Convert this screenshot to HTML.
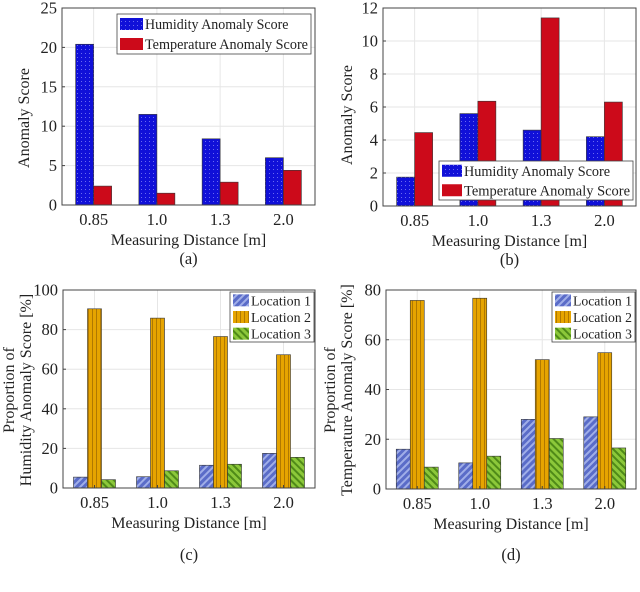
<!DOCTYPE html>
<html><head><meta charset="utf-8"><style>
html,body{margin:0;padding:0;background:#fff;}
svg{display:block;font-family:"Liberation Serif",serif;}
</style></head><body>
<svg id="fig" width="640" height="592" viewBox="0 0 640 592" xmlns="http://www.w3.org/2000/svg">
<defs>
<pattern id="pHum" width="4" height="4" patternUnits="userSpaceOnUse"><rect width="4" height="4" fill="#1010d8"/><rect x="1" y="1" width="1" height="1" fill="#6a6af0"/></pattern>
<pattern id="pL1" width="5" height="5" patternUnits="userSpaceOnUse" patternTransform="rotate(45)"><rect width="5" height="5" fill="#5a6cc8"/><rect width="2" height="5" fill="#a0aee8"/></pattern>
<pattern id="pL2" width="4" height="4" patternUnits="userSpaceOnUse"><rect width="4" height="4" fill="#e6a400"/><rect width="1" height="4" fill="#b07800"/></pattern>
<pattern id="pL3" width="5" height="5" patternUnits="userSpaceOnUse" patternTransform="rotate(-45)"><rect width="5" height="5" fill="#8cc83a"/><rect width="2" height="5" fill="#4f8a18"/></pattern>
</defs>
</svg>
<script>
const categories = ["0.85","1.0","1.3","2.0"];
const humA = [20.4, 11.5, 8.4, 6.0];
const tempA = [2.4, 1.5, 2.9, 4.4];
const humB = [1.75, 5.6, 4.6, 4.2];
const tempB = [4.45, 6.35, 11.4, 6.3];
const loc1C = [5.5, 5.7, 11.5, 17.5];
const loc2C = [90.5, 85.8, 76.5, 67.3];
const loc3C = [4.2, 8.7, 12.0, 15.5];
const loc1D = [16.0, 10.5, 28.0, 29.0];
const loc2D = [75.8, 76.7, 52.0, 54.8];
const loc3D = [8.8, 13.2, 20.3, 16.5];
const ticksA = [0,5,10,15,20,25];
const ticksB = [0,2,4,6,8,10,12];
const ticksC = [0,20,40,60,80,100];
const ticksD = [0,20,40,60,80];

const NS = "http://www.w3.org/2000/svg";
const svg = document.getElementById('fig');
function mk(tag, attrs, parent, text){
  const e = document.createElementNS(NS, tag);
  for (const k in attrs) e.setAttribute(k, attrs[k]);
  if (text !== undefined) e.textContent = text;
  (parent||svg).appendChild(e);
  return e;
}

function panel(o){
  const g = mk('g', {});
  
  
  const ymax = o.ticks[o.ticks.length-1];
  const y = v => o.y1 - (v/ymax)*(o.y1-o.y0);
  const bw = (o.x1-o.x0)/categories.length;
  const x = i => o.x0 + bw*(i+0.5);
  o.ticks.forEach(t=>{
    const gl = mk('line',{x1:o.x0,x2:o.x1,y1:y(t),y2:y(t),stroke:'#e6e6e6','stroke-width':1},g);
    
    
  });
  categories.forEach((c,i)=>{
    const gl = mk('line',{x1:x(i),x2:x(i),y1:o.y0,y2:o.y1,stroke:'#e6e6e6','stroke-width':1},g);
    
    
  });
  const n = o.series.length;
  const w = o.barW;
  o.series.forEach((s,si)=>{
    s.vals.forEach((v,i)=>{
      const bx = x(i) - n*w/2 + si*w;
      const r = mk('rect',{x:bx,y:y(v),width:w,height:y(0)-y(v),fill:s.fill,stroke:'#333','stroke-width':0.6},g);
      
      
    });
  });
  const box = mk('rect',{x:o.x0,y:o.y0,width:o.x1-o.x0,height:o.y1-o.y0,fill:'none',stroke:'#444','stroke-width':1},g);
  
  
  o.ticks.forEach(t=>{
    mk('line',{x1:o.x0,x2:o.x0+3,y1:y(t),y2:y(t),stroke:'#444'},g);
    const tl = mk('text',{x:o.x0-5,y:y(t)+5.5,'text-anchor':'end','font-size':16.5,fill:'#222'},g,String(t));
    
    
  });
  categories.forEach((c,i)=>{
    mk('line',{x1:x(i),x2:x(i),y1:o.y1,y2:o.y1-3,stroke:'#444'},g);
    const tl = mk('text',{x:x(i),y:o.y1+20,'text-anchor':'middle','font-size':16.5,fill:'#222'},g,c);
    
    
  });
  const xt = mk('text',{x:(o.x0+o.x1)/2,y:o.y1+40,'text-anchor':'middle','font-size':16,fill:'#222'},g,'Measuring Distance [m]');
  
  
  o.ylab.forEach((l,li)=>{
    const yx = o.ylabX + li*17;
    const yt = mk('text',{x:yx,y:o.ylabY,'text-anchor':'middle','font-size':16,fill:'#222',transform:`rotate(-90 ${yx} ${o.ylabY})`},g,l);
    
    
  });
  const cap = mk('text',{x:(o.x0+o.x1)/2,y:o.capY,'text-anchor':'middle','font-size':16.5,fill:'#222'},g,o.cap);
  
  
  const L = o.leg;
  const lg = mk('g',{},g);
  
  
  mk('rect',{x:L.x,y:L.y,width:L.w,height:L.h,fill:'#fff',stroke:'#444','stroke-width':0.8},lg);
  const rh = L.h/n;
  o.series.forEach((s,si)=>{
    const cy = L.y + rh*(si+0.5);
    const e = mk('g',{},lg);
    
    
    mk('rect',{x:L.x+3,y:cy-6,width:L.sw,height:12,fill:s.fill},e);
    const tx = L.x+L.sw+5;
    const tl = L.w - (tx-L.x) - 3;
    const maxLen = Math.max(...o.series.map(q=>q.label.length));
    mk('text',{x:tx,y:cy+5,'font-size':L.fs,fill:'#222',textLength:tl*s.label.length/maxLen,lengthAdjust:'spacingAndGlyphs'},e,s.label);
  });
}

panel({name:'panel-a',x0:62,x1:315,y0:8,y1:205,ticks:ticksA,barW:18,
  series:[{key:'humidity',vals:humA,fill:'url(#pHum)',label:'Humidity Anomaly Score'},
          {key:'temperature',vals:tempA,fill:'#cc0a1a',label:'Temperature Anomaly Score'}],
  ylab:['Anomaly Score'],ylabX:29,ylabY:118,cap:'(a)',capY:264,
  leg:{x:117,y:14,w:194,h:40,sw:23,fs:15}});
panel({name:'panel-b',x0:383,x1:636,y0:8,y1:206,ticks:ticksB,barW:18,
  series:[{key:'humidity',vals:humB,fill:'url(#pHum)',label:'Humidity Anomaly Score'},
          {key:'temperature',vals:tempB,fill:'#cc0a1a',label:'Temperature Anomaly Score'}],
  ylab:['Anomaly Score'],ylabX:352,ylabY:115,cap:'(b)',capY:265,
  leg:{x:439,y:161,w:194,h:39,sw:20,fs:15}});
panel({name:'panel-c',x0:63,x1:315,y0:290,y1:488,ticks:ticksC,barW:14,
  series:[{key:'location-1',vals:loc1C,fill:'url(#pL1)',label:'Location 1'},
          {key:'location-2',vals:loc2C,fill:'url(#pL2)',label:'Location 2'},
          {key:'location-3',vals:loc3C,fill:'url(#pL3)',label:'Location 3'}],
  ylab:['Proportion of','Humidity Anomaly Score [%]'],ylabX:14,ylabY:390,cap:'(c)',capY:560,
  leg:{x:230,y:292,w:84,h:50,sw:16,fs:14}});
panel({name:'panel-d',x0:386,x1:636,y0:290,y1:489,ticks:ticksD,barW:14,
  series:[{key:'location-1',vals:loc1D,fill:'url(#pL1)',label:'Location 1'},
          {key:'location-2',vals:loc2D,fill:'url(#pL2)',label:'Location 2'},
          {key:'location-3',vals:loc3D,fill:'url(#pL3)',label:'Location 3'}],
  ylab:['Proportion of','Temperature Anomaly Score [%]'],ylabX:335,ylabY:390,cap:'(d)',capY:560,
  leg:{x:552,y:292,w:83,h:50,sw:16,fs:14}});
</script>
</body></html>
